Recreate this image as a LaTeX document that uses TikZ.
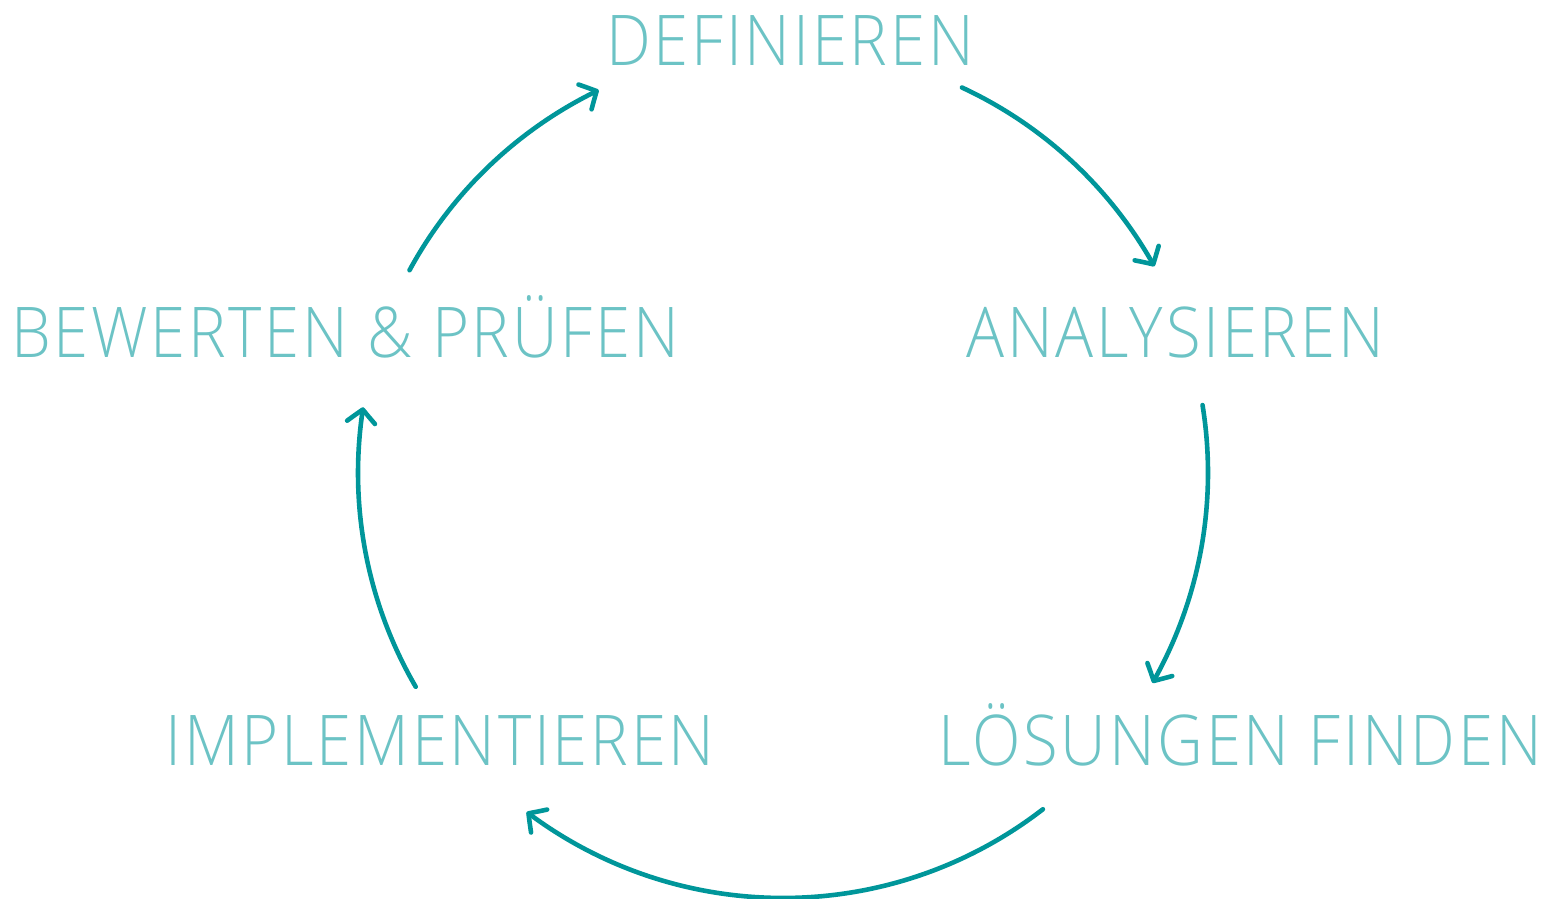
\documentclass[tikz,border=0pt]{standalone}
\usepackage{fontspec}
\usetikzlibrary{arrows.meta,bending}
\newfontfamily\lbl{Open Sans Light}[LetterSpace=4,FakeStretch=0.905]
\definecolor{labelteal}{HTML}{6CC3C5}
\definecolor{arrowteal}{HTML}{00969A}
\tikzset{
  step label/.style={font=\lbl\fontsize{70}{70}\selectfont, text=labelteal, anchor=base, inner sep=0pt},
  cycle arrow/.style={draw=arrowteal, line width=4.6pt, line cap=round,
    -{Straight Barb[length=13pt,width=28pt,line cap=round,line join=round,bend]}},
}
\begin{document}
\begin{tikzpicture}[x=1pt,y=-1pt]
\useasboundingbox (0,0) rectangle (1547,899);
% phase labels
\node[step label] (def) at (790,66)  {DEFINIEREN};
\node[step label] (ana) at (1175,357) {ANALYSIEREN};
\node[step label] (loe) at (1240,765) {LÖSUNGEN FINDEN};
\node[step label] (imp) at (440,765) {IMPLEMENTIEREN};
\node[step label] (bew) at (345,357) {BEWERTEN \& PRÜFEN};
% the circular cycle
\coordinate (c) at (783,473);
\def\R{425}
\coordinate (bew-out) at ([shift={(151.5:\R pt)}]c);
\coordinate (def-in)  at ([shift={(115.7:\R pt)}]c);
\coordinate (def-out) at ([shift={(65.1:\R pt)}]c);
\coordinate (ana-in)  at ([shift={(29.1:\R pt)}]c);
\coordinate (ana-out) at ([shift={(9.2:\R pt)}]c);
\coordinate (loe-in)  at ([shift={(-29.6:\R pt)}]c);
\coordinate (loe-out) at ([shift={(-52.3:\R pt)}]c);
\coordinate (imp-in)  at ([shift={(-127.1:\R pt)}]c);
\coordinate (imp-out) at ([shift={(-149.8:\R pt)}]c);
\coordinate (bew-in)  at ([shift={(-188.9:\R pt)}]c);
\draw[cycle arrow] (bew-out) arc[start angle=151.5, end angle=115.7, radius=\R pt];
\draw[cycle arrow] (def-out) arc[start angle=65.1, end angle=29.1, radius=\R pt];
\draw[cycle arrow] (ana-out) arc[start angle=9.2, end angle=-29.6, radius=\R pt];
\draw[cycle arrow] (loe-out) arc[start angle=-52.3, end angle=-127.1, radius=\R pt];
\draw[cycle arrow] (imp-out) arc[start angle=-149.8, end angle=-188.9, radius=\R pt];
\end{tikzpicture}
\end{document}
